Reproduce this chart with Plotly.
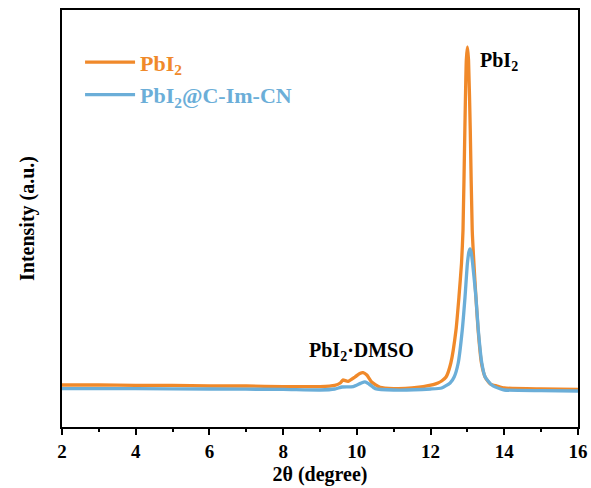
import plotly.graph_objects as go

# XRD patterns (2θ in degrees, intensity in arbitrary units)
theta_pbi2 = [2.0, 3.0, 4.0, 5.0, 6.0, 7.0, 8.0, 9.0, 9.4, 9.55, 9.62, 9.76, 9.95, 10.08, 10.17,
              10.27, 10.4, 10.63, 11.0, 11.5, 12.07, 12.2, 12.3, 12.42, 12.55, 12.69, 12.77,
              12.84, 12.88, 12.93, 12.97, 13.0, 13.03, 13.077, 13.13, 13.23, 13.29, 13.38,
              13.48, 13.62, 13.8, 14.0, 15.0, 16.0]
int_pbi2 = [1050, 1050, 1040, 1040, 1025, 1025, 1010, 1010, 1040, 1100, 1175, 1140, 1250, 1340, 1360,
            1300, 1125, 990, 960, 975, 1060, 1100, 1150, 1250, 1600, 2425, 3250,
            4100, 4925, 7425, 9175, 9500, 9175, 7425, 4925, 3250, 2425, 1600,
            1250, 1075, 1025, 975, 950, 940]

theta_comp = [2.0, 4.0, 6.0, 8.0, 9.0, 9.4, 9.6, 9.9, 10.1, 10.22, 10.33, 10.5, 11.0, 12.0,
              12.3, 12.53, 12.64, 12.75, 12.86, 12.935, 13.0, 13.04, 13.07, 13.1, 13.14,
              13.23, 13.295, 13.39, 13.48, 13.66, 13.9, 14.0, 15.0, 16.0]
int_comp = [960, 960, 950, 940, 925, 950, 1000, 1010, 1090, 1130, 1075, 960, 925, 950,
            975, 1100, 1250, 1600, 2425, 3250, 4100, 4375, 4450, 4375, 4100,
            3250, 2425, 1600, 1250, 1050, 950, 925, 910, 900]

x_ticks = [2, 4, 6, 8, 10, 12, 14, 16]

ORANGE = "#F0892A"
BLUE = "#6BAED8"
FONT = "Liberation Serif"

fig = go.Figure()
fig.add_trace(go.Scatter(
    x=theta_pbi2, y=int_pbi2, mode="lines",
    line=dict(color=ORANGE, width=3.3, shape="spline", smoothing=0.5),
    name=f"<span style='color:{ORANGE}'><b>PbI<sub>2</sub></b></span>",
    legendgroup="a",
))
fig.add_trace(go.Scatter(
    x=theta_comp, y=int_comp, mode="lines",
    line=dict(color=BLUE, width=3.3, shape="spline", smoothing=0.5),
    name=f"<span style='color:{BLUE}'><b>PbI<sub>2</sub>@C-Im-CN</b></span>",
    legendgroup="b",
))

fig.add_annotation(x=13.3, y=9150, text="<b>PbI<sub>2</sub></b>", showarrow=False,
                   xanchor="left", yanchor="middle", font=dict(family=FONT, size=20, color="black"))
fig.add_annotation(x=10.12, y=1900, text="<b>PbI<sub>2</sub>·DMSO</b>", showarrow=False,
                   xanchor="center", yanchor="middle", font=dict(family=FONT, size=20, color="black"))

fig.update_layout(
    width=591, height=488,
    margin=dict(l=62, r=13, t=10, b=61),
    paper_bgcolor="white", plot_bgcolor="white",
    font=dict(family=FONT, size=19, color="black"),
    showlegend=True,
    legend=dict(x=0.035, y=0.925, xanchor="left", yanchor="top",
                bgcolor="rgba(0,0,0,0)", font=dict(family=FONT, size=22),
                itemwidth=50, tracegroupgap=1),
    xaxis=dict(
        range=[2, 16], tickvals=x_ticks, ticktext=[f"<b>{t}</b>" for t in x_ticks],
        ticks="outside", ticklen=6, tickwidth=2, tickcolor="black",
        minor=dict(ticks="outside", ticklen=3, tickwidth=2, dtick=1, tickcolor="black"),
        showline=True, linewidth=2, linecolor="black", mirror=True,
        showgrid=False, zeroline=False, automargin=False,
        title=dict(text="<b>2θ (degree)</b>", font=dict(family=FONT, size=20), standoff=6),
        tickfont=dict(family=FONT, size=19),
    ),
    yaxis=dict(
        range=[0, 10425], showticklabels=False, ticks="",
        showline=True, linewidth=2, linecolor="black", mirror=True,
        showgrid=False, zeroline=False, automargin=False,
        title=dict(text="<b>Intensity (a.u.)</b>", font=dict(family=FONT, size=20), standoff=20),
    ),
)

fig.write_html("out.html")
